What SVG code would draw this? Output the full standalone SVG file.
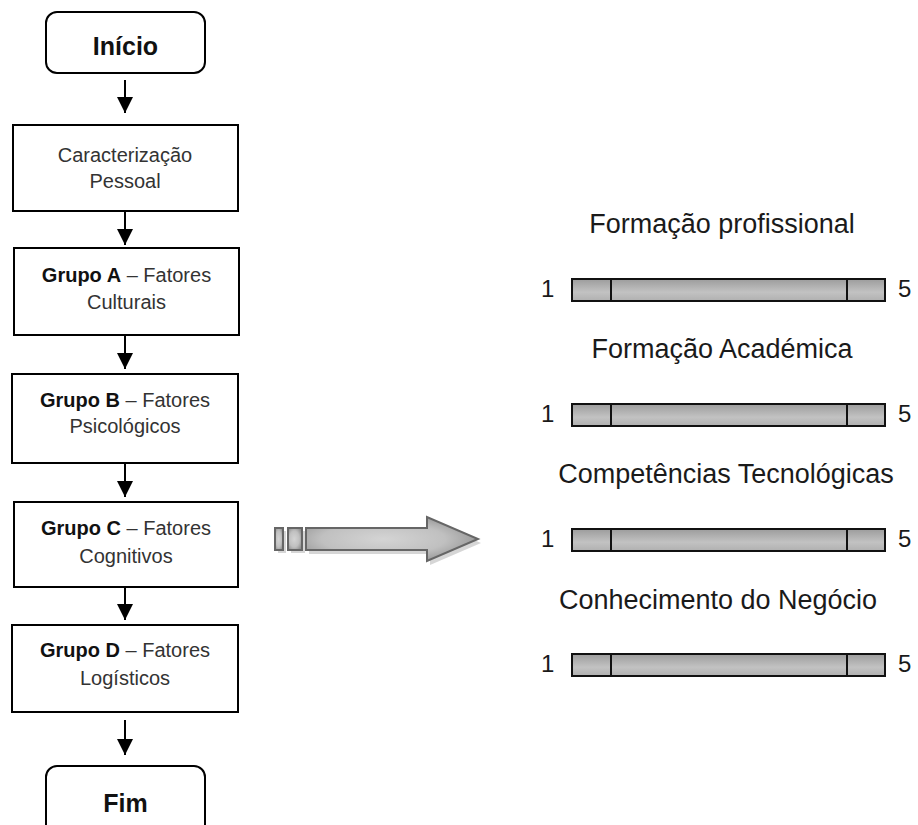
<svg xmlns="http://www.w3.org/2000/svg" width="918" height="825" viewBox="0 0 918 825">
<style>
.box{fill:#fff;stroke:#000;stroke-width:2}
.t{font-family:"Liberation Sans",Arial,sans-serif;font-size:20px;fill:#333;text-anchor:middle}
.b{font-weight:bold;fill:#111}
.term{font-family:"Liberation Sans",Arial,sans-serif;font-size:25px;font-weight:bold;fill:#111;text-anchor:middle}
.conn{stroke:#000;stroke-width:2;fill:none;marker-end:url(#ah)}
.lab{font-family:"Liberation Sans",Arial,sans-serif;font-size:27px;fill:#1a1a1a;text-anchor:middle}
.num{font-family:"Liberation Sans",Arial,sans-serif;font-size:24px;fill:#1a1a1a}
.bar{fill:url(#barg);stroke:#111;stroke-width:2}
.div{stroke:#111;stroke-width:2}
.big{fill:url(#bigg);stroke:#666;stroke-width:2}
.sh{fill:#c4c4c4;opacity:0.7}
</style>
<defs>
<marker id="ah" markerUnits="userSpaceOnUse" markerWidth="16" markerHeight="16" refX="16" refY="8" orient="auto">
<path d="M0,0 L16,8 L0,16 Z" fill="#000"/>
</marker>
<linearGradient id="barg" x1="0" y1="0" x2="0" y2="1">
<stop offset="0" stop-color="#9c9c9c"/>
<stop offset="0.6" stop-color="#c2c2c2"/>
<stop offset="1" stop-color="#b0b0b0"/>
</linearGradient>
<radialGradient id="bigg" cx="0.45" cy="0.5" r="0.6">
<stop offset="0" stop-color="#d4d4d4"/>
<stop offset="0.6" stop-color="#c0c0c0"/>
<stop offset="1" stop-color="#909090"/>
</radialGradient>
</defs>

<g id="connectors">
<line class="conn" x1="125" y1="80" x2="125" y2="113"/>
<line class="conn" x1="125" y1="211" x2="125" y2="245"/>
<line class="conn" x1="125" y1="335" x2="125" y2="369"/>
<line class="conn" x1="125" y1="463" x2="125" y2="497"/>
<line class="conn" x1="125" y1="587" x2="125" y2="620"/>
<line class="conn" x1="125" y1="720" x2="125" y2="755"/>
</g>

<g id="inicio">
<rect class="box" x="46" y="12" width="159" height="61" rx="11"/>
<text class="term" x="125.5" y="55">Início</text>
</g>

<g id="caracterizacao">
<rect class="box" x="13" y="125" width="225" height="86"/>
<text class="t" x="125" y="162">Caracterização</text>
<text class="t" x="125" y="188">Pessoal</text>
</g>

<g id="grupoA">
<rect class="box" x="14" y="248" width="225" height="87"/>
<text class="t" x="126.5" y="282"><tspan class="b">Grupo A</tspan> – Fatores</text>
<text class="t" x="126.5" y="309">Culturais</text>
</g>

<g id="grupoB">
<rect class="box" x="12" y="374" width="226" height="89"/>
<text class="t" x="125" y="407"><tspan class="b">Grupo B</tspan> – Fatores</text>
<text class="t" x="125" y="433">Psicológicos</text>
</g>

<g id="grupoC">
<rect class="box" x="14" y="502" width="224" height="85"/>
<text class="t" x="126" y="535"><tspan class="b">Grupo C</tspan> – Fatores</text>
<text class="t" x="126" y="563">Cognitivos</text>
</g>

<g id="grupoD">
<rect class="box" x="12" y="625" width="226" height="87"/>
<text class="t" x="125" y="657"><tspan class="b">Grupo D</tspan> – Fatores</text>
<text class="t" x="125" y="685">Logísticos</text>
</g>

<g id="fim">
<rect class="box" x="46" y="766" width="159" height="75" rx="11"/>
<text class="term" x="125.5" y="812">Fim</text>
</g>

<g id="big-arrow">
<rect class="sh" x="278" y="531" width="8" height="22"/>
<rect class="sh" x="291" y="531" width="14" height="22"/>
<path class="sh" d="M309,532 L430,532 L430,521 L481,543 L430,565 L430,554 L309,554 Z"/>
<rect class="big" x="275" y="528" width="8" height="22"/>
<rect class="big" x="288" y="528" width="14" height="22"/>
<path class="big" d="M306,528 L427,528 L427,517 L478,539 L427,561 L427,550 L306,550 Z"/>
</g>

<g id="scale1">
<text class="lab" x="722" y="233">Formação profissional</text>
<text class="num" x="541" y="297">1</text>
<rect class="bar" x="572" y="279" width="313" height="22"/>
<line class="div" x1="611" y1="279" x2="611" y2="301"/>
<line class="div" x1="847" y1="279" x2="847" y2="301"/>
<text class="num" x="898" y="297">5</text>
</g>

<g id="scale2">
<text class="lab" x="722" y="358">Formação Académica</text>
<text class="num" x="541" y="422">1</text>
<rect class="bar" x="572" y="404" width="313" height="22"/>
<line class="div" x1="611" y1="404" x2="611" y2="426"/>
<line class="div" x1="847" y1="404" x2="847" y2="426"/>
<text class="num" x="898" y="422">5</text>
</g>

<g id="scale3">
<text class="lab" x="726" y="483">Competências Tecnológicas</text>
<text class="num" x="541" y="547">1</text>
<rect class="bar" x="572" y="529" width="313" height="22"/>
<line class="div" x1="611" y1="529" x2="611" y2="551"/>
<line class="div" x1="847" y1="529" x2="847" y2="551"/>
<text class="num" x="898" y="547">5</text>
</g>

<g id="scale4">
<text class="lab" x="718" y="609">Conhecimento do Negócio</text>
<text class="num" x="541" y="672">1</text>
<rect class="bar" x="572" y="654" width="313" height="22"/>
<line class="div" x1="611" y1="654" x2="611" y2="676"/>
<line class="div" x1="847" y1="654" x2="847" y2="676"/>
<text class="num" x="898" y="672">5</text>
</g>
</svg>
